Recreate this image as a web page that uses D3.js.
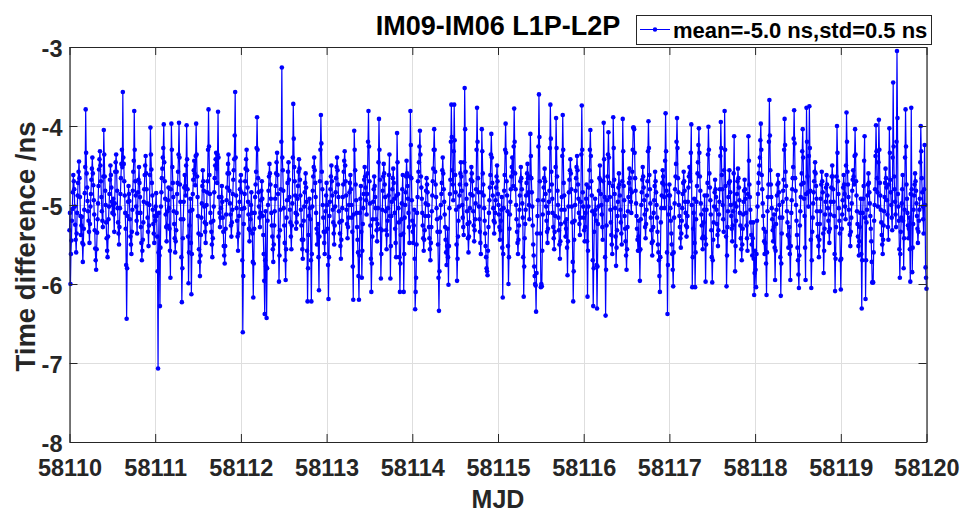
<!DOCTYPE html>
<html>
<head>
<meta charset="utf-8">
<script src="https://cdn.jsdelivr.net/npm/d3@7"></script>
<style>
  body { margin: 0; background: #fff; }
  svg { display: block; }
  text { font-family: "Liberation Sans", Arial, sans-serif; font-weight: bold; }
</style>
</head>
<body>
<svg id="chart" width="965" height="513"></svg>
<script>
// ---------- data ----------
const startMJD = 58110;
const samplesPerDay = 180;   // two hand-read samples per slot: day* (even) and mid* (odd)

const day0 = [
-5.32,-6.00,-5.45,-5.05,-4.62,-4.80,-5.25,-5.60,-5.10,-4.72,
-4.45,-4.90,-5.38,-5.15,-5.72,-5.30,-4.85,-3.79,-4.60,-4.95,
-5.20,-5.48,-5.02,-4.68,-4.40,-4.75,-5.12,-5.55,-5.82,-5.35,
-4.98,-4.55,-4.32,-4.70,-5.08,-5.28,-4.05,-4.64,-5.00,-5.42,
-5.66,-5.18,-4.86,-4.50,-4.78,-5.10,-4.92,-5.34,-4.58,-4.36,
-4.82,-5.22,-5.50,-5.04,-4.66,-4.30,-3.57,-4.48,-4.88,-5.30,
-6.44,-5.14,-4.76,-4.95,-5.40,-5.62,-5.06,-4.58,-3.81,-4.70,
-5.02,-5.36,-4.84,-4.52,-4.90,-5.28,-5.70,-5.44,-4.96,-4.62,
-4.38,-4.80,-5.16,-5.52,-5.00,-4.02,-4.55,-4.88,-5.24,-5.48];
const mid0 = [
-5.10,-5.62,-5.20,-4.84,-4.70,-5.02,-5.44,-5.36,-4.88,-4.58,
-4.66,-5.14,-5.26,-5.48,-5.50,-5.06,-4.52,-4.34,-4.78,-5.08,
-5.34,-5.24,-4.86,-4.54,-4.60,-4.94,-5.32,-5.70,-5.56,-5.18,
-4.76,-4.42,-4.50,-4.90,-5.20,-4.64,-4.36,-4.82,-5.22,-5.58,
-5.40,-5.02,-4.68,-4.62,-4.96,-5.00,-5.12,-4.98,-4.46,-4.58,
-5.04,-5.36,-5.28,-4.86,-4.48,-4.52,-4.40,-4.70,-5.10,-5.76,
-5.80,-4.96,-4.86,-5.18,-5.50,-5.34,-4.82,-4.44,-4.30,-4.88,
-5.20,-5.10,-4.68,-4.72,-5.10,-5.48,-5.58,-5.22,-4.80,-4.50,
-4.60,-4.98,-5.34,-5.26,-4.62,-4.36,-4.72,-5.06,-5.36,-5.14];

const day1 = [
-5.20,-4.85,-5.40,-7.07,-5.10,-6.28,-5.02,-4.66,-4.40,-3.98,
-4.70,-5.12,-5.46,-5.08,-4.78,-5.30,-5.92,-3.97,-4.52,-4.90,
-5.24,-5.60,-5.32,-4.86,-4.58,-3.96,-4.74,-5.18,-6.23,-5.42,
-4.96,-4.62,-4.88,-3.99,-4.80,-5.99,-5.26,-4.92,-6.13,-5.06,
-4.68,-4.44,-4.75,-3.97,-4.64,-5.14,-5.56,-5.90,-5.38,-4.98,
-4.56,-4.82,-5.22,-5.48,-5.00,-4.70,-3.79,-4.62,-5.10,-5.34,
-5.66,-5.20,-4.84,-4.50,-4.34,-4.72,-3.82,-4.90,-5.28,-5.04,
-4.76,-5.16,-5.52,-5.74,-5.30,-4.94,-4.60,-4.36,-4.82,-5.12,
-5.40,-5.06,-4.68,-4.42,-3.57,-4.88,-5.20,-5.58,-5.14,-4.80];
const mid1 = [
-5.02,-5.14,-5.84,-5.60,-5.64,-5.54,-4.84,-4.54,-4.28,-4.46,
-4.92,-5.28,-5.26,-4.94,-5.04,-5.58,-4.80,-4.30,-4.72,-5.08,
-5.42,-5.46,-5.10,-4.72,-4.36,-4.40,-4.96,-5.66,-5.80,-5.18,
-4.78,-4.76,-4.50,-4.42,-5.40,-5.60,-5.08,-5.48,-5.62,-4.86,
-4.56,-4.60,-4.38,-4.36,-4.90,-5.36,-5.72,-5.64,-5.16,-4.76,
-4.70,-5.02,-5.34,-5.24,-4.84,-4.30,-4.26,-4.86,-5.22,-5.50,
-5.42,-5.02,-4.66,-4.42,-4.54,-4.36,-4.40,-5.10,-5.16,-4.90,
-4.96,-5.34,-5.64,-5.52,-5.12,-4.78,-4.48,-4.60,-4.98,-5.26,
-5.22,-4.86,-4.56,-4.12,-4.40,-5.04,-5.40,-5.36,-4.96,-4.70];

const day2 = [
-4.62,-5.05,-6.61,-5.24,-4.86,-4.54,-4.30,-4.78,-5.12,-5.46,
-5.18,-4.84,-5.36,-6.17,-5.30,-4.90,-4.58,-3.89,-4.66,-5.02,
-5.28,-4.94,-4.70,-5.14,-5.62,-6.38,-5.08,-6.43,-5.20,-4.82,
-4.48,-4.74,-5.10,-5.40,-5.72,-5.26,-4.92,-4.60,-4.34,-4.86,
-5.97,-5.32,-4.80,-3.26,-4.56,-5.04,-5.48,-5.95,-5.16,-4.72,
-4.46,-4.90,-5.22,-5.56,-4.98,-3.72,-4.52,-4.88,-5.30,-5.12,
-4.76,-4.42,-4.68,-5.06,-5.44,-5.68,-5.20,-4.84,-4.60,-4.96,
-6.22,-5.38,-4.92,-5.18,-6.22,-5.02,-4.64,-4.40,-4.72,-5.10,
-5.50,-5.24,-6.08,-4.70,-3.86,-4.58,-5.00,-5.34,-5.62,-5.08];
const mid2 = [
-4.84,-5.70,-5.90,-5.04,-4.70,-4.42,-4.56,-4.96,-5.30,-5.32,
-5.00,-5.10,-5.72,-5.74,-5.10,-4.74,-4.28,-4.30,-4.84,-5.16,
-5.10,-4.82,-4.92,-5.38,-5.96,-5.70,-5.78,-5.80,-5.00,-4.64,
-4.60,-4.92,-5.26,-5.56,-5.50,-5.08,-4.76,-4.46,-4.62,-5.40,
-5.64,-5.06,-4.20,-4.40,-4.82,-5.26,-5.70,-5.56,-4.94,-4.58,
-4.68,-5.06,-5.40,-5.26,-4.40,-4.16,-4.70,-5.10,-5.22,-4.92,
-4.58,-4.54,-4.88,-5.26,-5.56,-5.44,-5.02,-4.72,-4.78,-5.58,
-5.80,-5.14,-5.04,-5.70,-5.62,-4.82,-4.52,-4.56,-4.90,-5.30,
-5.36,-5.66,-5.40,-4.30,-4.22,-4.80,-5.16,-5.48,-5.34,-4.88];

const day3 = [
-4.72,-5.30,-6.19,-5.14,-4.80,-4.50,-4.88,-5.22,-5.50,-5.02,
-4.66,-4.40,-4.74,-5.08,-5.36,-5.68,-5.20,-4.90,-4.58,-4.32,
-4.70,-5.06,-5.42,-5.16,-4.84,-4.62,-5.00,-5.34,-6.20,-4.06,
-4.56,-4.94,-5.28,-5.60,-6.20,-5.10,-4.76,-5.92,-5.24,-4.86,
-4.52,-4.78,-5.12,-4.60,-3.81,-4.70,-5.26,-6.10,-5.40,-4.96,
-4.64,-4.90,-5.18,-5.46,-5.04,-3.91,-4.68,-5.93,-5.32,-4.82,
-4.48,-4.74,-5.08,-5.56,-5.20,-4.88,-4.36,-5.93,-5.14,-4.80,
-4.54,-4.92,-5.30,-5.66,-4.09,-4.86,-5.22,-6.10,-5.38,-4.98,
-4.62,-6.10,-5.16,-4.84,-4.44,-4.76,-5.10,-5.48,-3.81,-4.66];
const mid3 = [
-5.00,-5.76,-5.66,-4.96,-4.64,-4.70,-5.06,-5.36,-5.26,-4.84,
-4.52,-4.56,-4.90,-5.22,-5.52,-5.44,-5.04,-4.74,-4.44,-4.50,
-4.88,-5.24,-5.28,-5.00,-4.72,-4.80,-5.16,-5.78,-5.12,-4.30,
-4.74,-5.10,-5.44,-5.90,-5.64,-4.92,-5.34,-5.58,-5.04,-4.68,
-4.64,-4.94,-4.86,-4.20,-4.26,-4.98,-5.68,-5.74,-5.18,-4.80,
-4.76,-5.04,-5.32,-5.24,-4.46,-4.30,-5.30,-5.62,-5.06,-4.64,
-4.60,-4.90,-5.32,-5.38,-5.04,-4.62,-5.14,-5.52,-4.96,-4.66,
-4.72,-5.10,-5.48,-4.88,-4.46,-5.04,-5.66,-5.74,-5.18,-4.80,
-5.36,-5.62,-5.00,-4.64,-4.60,-4.92,-5.28,-4.64,-4.24,-4.94];

const day4 = [
-5.20,-5.48,-5.06,-6.32,-5.92,-5.10,-4.70,-4.46,-4.06,-4.64,
-4.92,-5.26,-5.58,-5.32,-4.98,-4.66,-4.84,-5.14,-5.42,-5.70,
-5.28,-4.88,-4.54,-4.04,-4.58,-4.90,-5.18,-5.50,-6.34,-5.34,
-5.00,-4.72,-4.40,-4.80,-5.12,-5.44,-5.76,-5.30,-6.01,-5.04,
-4.68,-3.73,-4.56,-4.94,-3.73,-4.62,-5.06,-5.96,-5.40,-5.02,
-4.74,-4.46,-4.82,-5.16,-5.38,-3.52,-4.58,-4.92,-5.24,-5.60,
-5.22,-4.86,-4.52,-4.70,-5.08,-5.46,-5.18,-4.80,-3.77,-4.66,
-5.02,-5.34,-5.62,-4.04,-4.60,-4.88,-5.20,-5.52,-5.80,-5.89,
-5.28,-4.94,-4.62,-4.10,-4.72,-5.04,-5.36,-5.10,-4.78,-4.50];
const mid4 = [
-5.34,-5.26,-5.68,-6.10,-5.50,-4.90,-4.58,-4.26,-4.36,-4.78,
-5.10,-5.42,-5.44,-5.14,-4.82,-4.74,-5.00,-5.28,-5.56,-5.48,
-5.08,-4.70,-4.30,-4.30,-4.74,-5.04,-5.34,-5.92,-5.84,-5.16,
-4.86,-4.56,-4.60,-4.96,-5.28,-5.60,-5.52,-5.66,-5.52,-4.86,
-4.20,-4.14,-4.74,-4.32,-4.18,-4.84,-5.50,-5.68,-5.20,-4.88,
-4.60,-4.64,-5.00,-5.28,-4.46,-4.04,-4.74,-5.08,-5.42,-5.40,
-5.04,-4.68,-4.60,-4.88,-5.26,-5.32,-4.98,-4.30,-4.20,-4.84,
-5.18,-5.48,-4.84,-4.32,-4.74,-5.04,-5.36,-5.66,-5.84,-5.58,
-5.10,-4.78,-4.36,-4.40,-4.88,-5.20,-5.22,-4.94,-4.64,-4.70];

const day5 = [
-4.86,-5.12,-5.44,-5.20,-4.90,-6.17,-5.04,-4.62,-3.97,-4.70,
-5.08,-6.00,-5.30,-4.96,-4.64,-4.40,-4.76,-3.78,-4.60,-5.00,
-5.34,-5.62,-5.26,-4.88,-4.52,-4.80,-5.16,-6.16,-5.42,-5.06,
-4.72,-4.48,-4.84,-5.18,-4.10,-4.66,-5.02,-5.50,-5.78,-6.00,
-6.35,-5.36,-4.94,-3.60,-4.70,-6.04,-6.03,-5.12,-4.78,-4.54,
-4.86,-5.20,-5.48,-5.10,-4.82,-3.73,-4.58,-4.92,-5.28,-5.56,
-5.14,-3.90,-4.64,-5.00,-5.32,-5.68,-5.24,-4.90,-3.86,-4.72,
-5.06,-5.40,-5.18,-5.89,-5.02,-4.68,-4.42,-4.80,-5.22,-6.22,
-5.44,-5.00,-4.66,-4.38,-4.74,-5.10,-5.38,-4.96,-3.74,-4.84];
const mid5 = [
-5.00,-5.28,-5.32,-5.06,-5.54,-5.62,-4.82,-4.30,-4.34,-4.88,
-5.52,-5.66,-5.12,-4.80,-4.52,-4.58,-4.26,-4.20,-4.80,-5.18,
-5.48,-5.44,-5.06,-4.70,-4.66,-4.98,-5.66,-5.78,-5.24,-4.88,
-4.60,-4.66,-5.00,-4.64,-4.38,-4.84,-5.26,-5.64,-5.90,-6.02,
-5.86,-5.14,-4.26,-4.14,-5.36,-6.00,-5.58,-4.94,-4.66,-4.70,
-5.02,-5.34,-5.30,-4.96,-4.28,-4.16,-4.74,-5.10,-5.42,-5.34,
-4.52,-4.28,-4.82,-5.16,-5.50,-5.46,-5.06,-4.38,-4.30,-4.88,
-5.22,-5.30,-5.54,-5.46,-4.84,-4.56,-4.60,-5.02,-5.72,-5.84,
-5.20,-4.82,-4.52,-4.56,-4.92,-5.24,-5.16,-4.36,-4.30,-5.02];

const day6 = [
-5.16,-5.46,-5.10,-4.74,-6.16,-5.02,-4.56,-4.05,-4.70,-5.08,
-6.28,-5.34,-4.92,-5.20,-6.31,-5.24,-4.82,-4.50,-4.86,-5.12,
-5.44,-3.96,-4.90,-6.40,-5.26,-4.64,-4.08,-4.72,-5.06,-5.38,
-5.62,-3.89,-4.68,-5.04,-5.77,-5.32,-4.96,-4.60,-4.88,-5.22,
-5.50,-3.91,-4.76,-5.14,-5.46,-5.82,-5.28,-4.90,-4.54,-4.80,
-5.10,-4.58,-4.02,-4.04,-4.66,-4.98,-5.30,-5.58,-5.20,-5.96,
-5.18,-4.84,-4.52,-4.78,-5.12,-5.42,-5.06,-4.70,-3.94,-4.62,
-4.98,-5.32,-5.64,-5.28,-4.94,-4.58,-4.84,-5.16,-5.50,-5.70,
-6.10,-5.22,-4.88,-4.56,-4.74,-5.04,-3.84,-4.82,-6.38,-5.12];
const mid6 = [
-5.32,-5.28,-4.92,-5.46,-5.58,-4.78,-4.30,-4.38,-4.88,-5.70,
-5.80,-5.12,-5.06,-5.76,-5.78,-5.02,-4.66,-4.68,-5.00,-5.28,
-4.70,-4.42,-5.66,-5.82,-4.94,-4.36,-4.40,-4.90,-5.22,-5.50,
-4.76,-4.28,-4.86,-5.40,-5.54,-5.14,-4.78,-4.74,-5.06,-5.36,
-4.70,-4.32,-4.94,-5.30,-5.64,-5.56,-5.08,-4.72,-4.66,-4.96,
-4.84,-4.30,-4.02,-4.34,-4.82,-5.14,-5.44,-5.40,-5.58,-5.56,
-5.00,-4.68,-4.64,-4.94,-5.28,-5.24,-4.88,-4.32,-4.28,-4.80,
-5.16,-5.48,-5.46,-5.10,-4.76,-4.70,-5.00,-5.34,-5.60,-5.90,
-5.66,-5.04,-4.72,-4.64,-4.90,-4.44,-4.32,-5.60,-5.76,-4.88];

const day7 = [
-4.74,-5.04,-5.36,-5.62,-6.03,-5.16,-4.80,-4.48,-3.90,-4.66,
-5.00,-5.28,-5.54,-5.20,-4.86,-4.58,-4.82,-5.10,-5.40,-5.14,
-4.78,-4.52,-4.70,-3.98,-6.04,-5.30,-4.92,-6.04,-5.18,-4.76,
-4.46,-4.03,-4.64,-4.98,-5.26,-5.56,-5.22,-4.88,-5.97,-5.06,
-4.72,-4.01,-4.60,-4.94,-5.32,-5.98,-5.44,-5.02,-4.68,-4.90,
-5.24,-5.52,-5.12,-4.80,-3.95,-4.62,-5.00,-5.34,-3.81,-4.76,
-6.03,-5.28,-4.90,-4.56,-4.84,-5.14,-5.46,-5.08,-4.13,-5.84,
-5.20,-4.86,-4.54,-4.78,-5.10,-5.42,-5.70,-5.30,-4.96,-4.68,
-4.92,-5.26,-5.58,-4.13,-4.74,-5.06,-5.38,-5.64,-5.22,-6.14];
const mid7 = [
-4.88,-5.20,-5.50,-5.82,-5.60,-4.98,-4.64,-4.20,-4.28,-4.84,
-5.14,-5.42,-5.36,-5.04,-4.72,-4.70,-4.96,-5.26,-5.28,-4.96,
-4.64,-4.60,-4.34,-5.00,-5.66,-5.10,-5.48,-5.60,-4.96,-4.60,
-4.24,-4.34,-4.82,-5.12,-5.42,-5.40,-5.06,-5.42,-5.50,-4.88,
-4.36,-4.30,-4.78,-5.12,-5.66,-5.70,-5.22,-4.84,-4.80,-5.06,
-5.38,-5.32,-4.96,-4.38,-4.28,-4.80,-5.18,-4.56,-4.30,-5.40,
-5.64,-5.08,-4.72,-4.70,-5.00,-5.30,-5.26,-4.60,-4.98,-5.52,
-5.02,-4.70,-4.66,-4.94,-5.26,-5.56,-5.50,-5.12,-4.82,-4.80,
-5.10,-5.42,-4.86,-4.44,-4.90,-5.22,-5.50,-5.42,-5.68,-5.86];

const day8 = [
-5.58,-6.04,-5.20,-4.86,-4.60,-4.40,-3.97,-4.62,-4.98,-5.30,
-5.62,-5.34,-6.14,-5.08,-4.74,-3.67,-4.56,-4.90,-5.18,-5.46,
-5.12,-5.95,-5.24,-4.88,-4.62,-4.84,-5.16,-6.15,-5.36,-4.96,
-4.68,-3.91,-4.58,-4.92,-5.22,-5.54,-5.28,-5.95,-5.10,-4.80,
-4.52,-3.80,-4.66,-5.00,-5.38,-5.70,-6.05,-5.26,-4.90,-4.60,
-4.04,-4.72,-5.14,-5.95,-3.77,-4.64,-5.02,-3.75,-4.82,-6.05,
-5.34,-4.98,-4.70,-4.46,-4.76,-5.08,-5.40,-5.66,-5.24,-4.92,
-4.58,-4.84,-5.86,-5.30,-4.96,-4.62,-4.88,-5.20,-5.48,-5.12,
-4.78,-4.50,-4.80,-5.14,-6.09,-5.28,-4.00,-4.70,-5.04,-5.36];
const mid8 = [
-5.82,-5.62,-5.02,-4.72,-4.50,-4.18,-4.30,-4.80,-5.14,-5.46,
-5.48,-5.74,-5.60,-4.90,-4.20,-4.12,-4.74,-5.04,-5.32,-5.28,
-5.54,-5.58,-5.06,-4.74,-4.72,-5.00,-5.66,-5.74,-5.16,-4.82,
-4.30,-4.24,-4.76,-5.08,-5.38,-5.40,-5.62,-5.52,-4.94,-4.66,
-4.16,-4.22,-4.82,-5.20,-5.54,-5.88,-5.64,-5.08,-4.74,-4.32,
-4.40,-4.92,-5.54,-4.86,-4.20,-4.84,-4.38,-4.28,-5.44,-5.70,
-5.16,-4.84,-4.58,-4.60,-4.92,-5.24,-5.52,-5.44,-5.08,-4.74,
-4.70,-5.36,-5.58,-5.12,-4.78,-4.74,-5.04,-5.34,-5.30,-4.96,
-4.64,-4.64,-4.96,-5.62,-5.68,-4.64,-4.34,-4.86,-5.20,-5.70];

const day9 = [
-6.07,-5.30,-4.94,-4.62,-4.86,-5.18,-3.83,-4.58,-4.90,-5.24,
-5.52,-5.16,-4.82,-4.56,-4.74,-4.04,-4.70,-5.08,-5.40,-5.64,
-5.28,-4.92,-6.31,-5.10,-4.76,-4.13,-6.19,-5.22,-4.88,-4.60,
-4.84,-5.14,-5.46,-5.98,-5.98,-5.20,-4.80,-3.99,-4.66,-5.02,
-3.92,-4.72,-5.06,-5.38,-5.62,-5.26,-4.90,-4.54,-4.78,-5.12,
-5.44,-4.03,-4.68,-5.00,-5.32,-3.45,-4.64,-4.96,-5.28,-3.05,
-4.86,-5.20,-5.92,-5.34,-4.98,-4.62,-5.80,-5.06,-3.79,-4.74,
-5.10,-5.42,-5.16,-5.97,-3.77,-5.85,-5.24,-4.88,-4.60,-4.82,
-5.14,-5.48,-5.20,-4.92,-4.00,-4.66,-5.02,-5.36,-4.24,-5.79];
const mid9 = [
-5.68,-5.12,-4.78,-4.74,-5.02,-4.50,-4.20,-4.74,-5.06,-5.38,
-5.34,-4.98,-4.68,-4.64,-4.38,-4.36,-4.88,-5.24,-5.52,-5.46,
-5.10,-5.62,-5.70,-4.92,-4.44,-5.16,-5.70,-5.06,-4.74,-4.72,
-4.98,-5.30,-5.72,-5.98,-5.60,-5.00,-4.38,-4.32,-4.84,-4.46,
-4.30,-4.88,-5.22,-5.50,-5.44,-5.08,-4.72,-4.66,-4.94,-5.28,
-4.74,-4.34,-4.84,-5.16,-4.40,-4.26,-4.80,-5.12,-4.20,-3.90,
-5.02,-5.56,-5.62,-5.16,-4.80,-5.20,-5.42,-4.40,-4.26,-4.92,
-5.26,-5.30,-5.56,-4.86,-4.80,-5.54,-5.06,-4.74,-4.70,-4.98,
-5.30,-5.34,-5.06,-4.46,-4.32,-4.84,-5.18,-4.80,-5.00,-5.92];

const lastValue = [-6.06];

const evenSamples = [day0, day1, day2, day3, day4, day5, day6, day7, day8, day9];
const oddSamples  = [mid0, mid1, mid2, mid3, mid4, mid5, mid6, mid7, mid8, mid9];

const xTickValues = [58110, 58111, 58112, 58113, 58114, 58115, 58116, 58117, 58118, 58119, 58120];
const yTickValues = [-8, -7, -6, -5, -4, -3];
const titleText = "IM09-IM06 L1P-L2P";
const legendLabel = "mean=-5.0 ns,std=0.5 ns";
const xLabelText = "MJD";
const yLabelText = "Time difference /ns";

// ---------- assemble series (merge the two hand-read sample sets in time order) ----------
const timeDiff = [];
evenSamples.forEach((arr, d) => {
  arr.forEach((v, i) => { timeDiff.push(v); timeDiff.push(oddSamples[d][i]); });
});
lastValue.forEach(v => timeDiff.push(v));
const mjd = timeDiff.map((v, i) => startMJD + i / samplesPerDay);

// ---------- drawing ----------
(function draw() {
  const svg = d3.select("#chart");
  const pLeft = 69.5, pRight = 926.5, pTop = 47, pBottom = 442;
  const axisColor = "#262626";
  const lineColor = "#0000ff";
  const fmt = d => String(d);

  const x = d3.scaleLinear().domain([58110, 58120]).range([pLeft, pRight]);
  const y = d3.scaleLinear().domain([-8, -3]).range([pBottom, pTop]);

  svg.append("rect").attr("width", 965).attr("height", 513).attr("fill", "#fff");

  // grid
  const grid = svg.append("g").attr("stroke", "#dedede").attr("stroke-width", 1);
  grid.selectAll("line.gx").data(xTickValues).join("line").attr("class", "gx")
    .attr("x1", d => Math.round(x(d)) + 0.5).attr("x2", d => Math.round(x(d)) + 0.5)
    .attr("y1", pTop).attr("y2", pBottom);
  grid.selectAll("line.gy").data(yTickValues).join("line").attr("class", "gy")
    .attr("y1", d => Math.round(y(d)) + 0.5).attr("y2", d => Math.round(y(d)) + 0.5)
    .attr("x1", pLeft).attr("x2", pRight);

  // data line + markers
  const plot = svg.append("g");
  const line = d3.line().x((d, i) => x(mjd[i])).y(d => y(d));
  plot.append("path").datum(timeDiff)
    .attr("fill", "none").attr("stroke", lineColor).attr("stroke-width", 1.2)
    .attr("stroke-linejoin", "round").attr("d", line);
  plot.selectAll("circle").data(timeDiff).join("circle")
    .attr("cx", (d, i) => x(mjd[i])).attr("cy", d => y(d)).attr("r", 2.3)
    .attr("fill", lineColor);

  function styleAxis(g) {
    g.selectAll(".domain").attr("stroke", axisColor).attr("stroke-width", 1.2);
    g.selectAll(".tick line").attr("stroke", axisColor).attr("stroke-width", 1);
    g.selectAll(".tick text").attr("fill", axisColor)
      .style("font-family", "'Liberation Sans', Arial, sans-serif").style("font-weight", "bold");
  }

  const xAxis = svg.append("g").attr("transform", `translate(0,${pBottom})`)
    .call(d3.axisBottom(x).tickValues(xTickValues).tickFormat(fmt)
      .tickSize(-8).tickSizeOuter(0).tickPadding(17));
  xAxis.selectAll(".tick text").style("font-size", "23.5px");
  styleAxis(xAxis);

  const xTopAxis = svg.append("g").attr("transform", `translate(0,${pTop})`)
    .call(d3.axisTop(x).tickValues(xTickValues).tickFormat("").tickSize(-8).tickSizeOuter(0));
  styleAxis(xTopAxis);

  const yAxis = svg.append("g").attr("transform", `translate(${pLeft},0)`)
    .call(d3.axisLeft(y).tickValues(yTickValues).tickFormat(fmt)
      .tickSize(-8).tickSizeOuter(0).tickPadding(7));
  yAxis.selectAll(".tick text").style("font-size", "23.5px").attr("dy", "0.4em");
  styleAxis(yAxis);

  const yRightAxis = svg.append("g").attr("transform", `translate(${pRight},0)`)
    .call(d3.axisRight(y).tickValues(yTickValues).tickFormat("").tickSize(-8).tickSizeOuter(0));
  styleAxis(yRightAxis);

  // title
  svg.append("text").attr("x", (pLeft + pRight) / 2).attr("y", 35)
    .attr("text-anchor", "middle").attr("fill", "#000").style("font-size", "27px")
    .text(titleText);

  // axis labels
  svg.append("text").attr("x", (pLeft + pRight) / 2).attr("y", 508)
    .attr("text-anchor", "middle").attr("fill", axisColor).style("font-size", "25px")
    .text(xLabelText);
  svg.append("text")
    .attr("transform", `translate(35,${(pTop + pBottom) / 2 + 2}) rotate(-90)`)
    .attr("text-anchor", "middle").attr("fill", axisColor).style("font-size", "27.5px")
    .text(yLabelText);

  // legend
  const lg = svg.append("g");
  lg.append("rect").attr("x", 636.5).attr("y", 15.5).attr("width", 295).attr("height", 29)
    .attr("fill", "#fff").attr("stroke", axisColor).attr("stroke-width", 1);
  lg.append("line").attr("x1", 640).attr("x2", 670).attr("y1", 29.5).attr("y2", 29.5)
    .attr("stroke", lineColor).attr("stroke-width", 1);
  lg.append("circle").attr("cx", 655).attr("cy", 29.5).attr("r", 2.2).attr("fill", lineColor);
  lg.append("text").attr("x", 673).attr("y", 37.5).attr("fill", "#000")
    .style("font-size", "22px").text(legendLabel);
})();
</script>
</body>
</html>
